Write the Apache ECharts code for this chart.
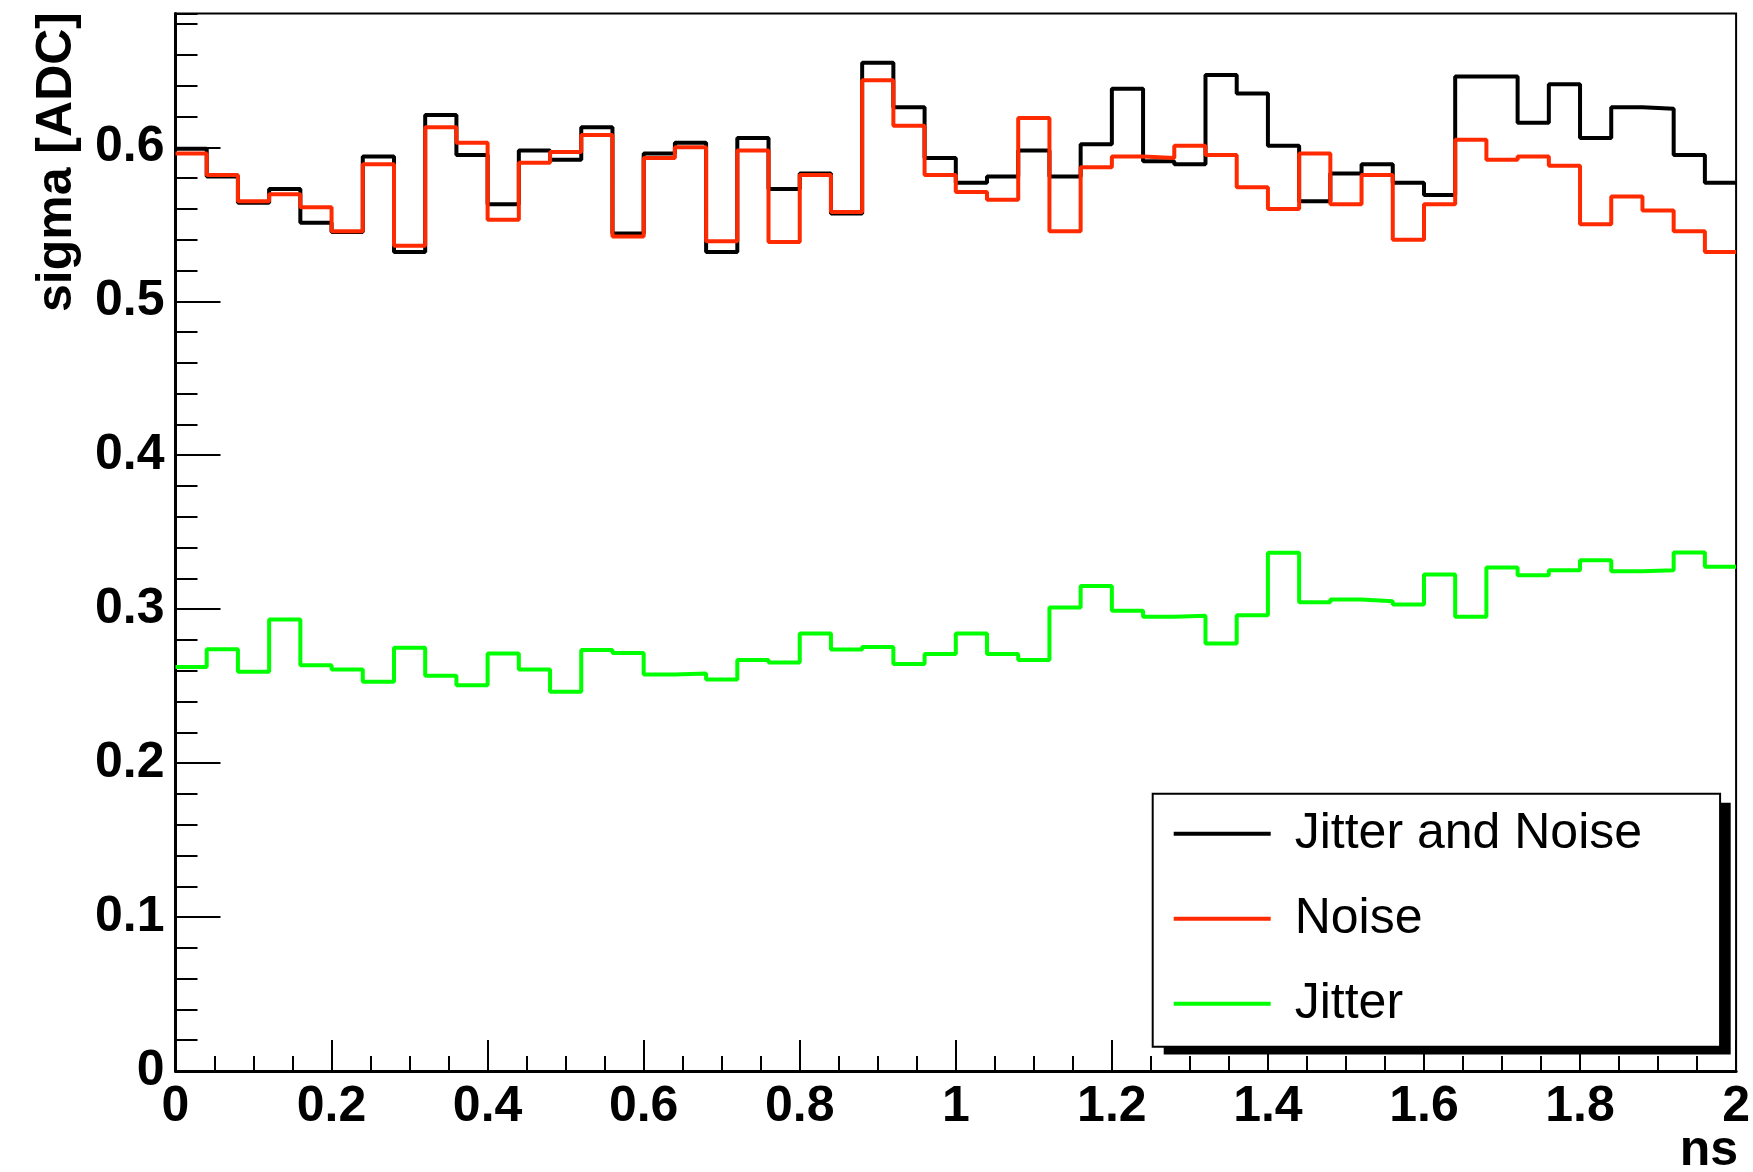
<!DOCTYPE html>
<html>
<head>
<meta charset="utf-8">
<script src="https://cdn.jsdelivr.net/npm/echarts@6/dist/echarts.min.js"></script>
<style>html,body{margin:0;padding:0;background:#fff}#c{width:1753px;height:1172px}</style>
</head>
<body>
<div id="c"></div>
<script>
// 50 bins from 0 to 2 ns (bin width 0.04)
const binCount = 50;
const xMin = 0, xMax = 2;
const seriesNames = ['Jitter and Noise', 'Noise', 'Jitter'];
const jitterAndNoise = [0.599, 0.581, 0.564, 0.573, 0.551, 0.545, 0.594, 0.532, 0.621, 0.595,
  0.563, 0.598, 0.592, 0.613, 0.544, 0.596, 0.603, 0.532, 0.606, 0.573,
  0.583, 0.557, 0.655, 0.626, 0.593, 0.577, 0.581, 0.598, 0.581, 0.602,
  0.638, 0.591, 0.589, 0.647, 0.635, 0.601, 0.565, 0.583, 0.589, 0.577,
  0.569, 0.646, 0.646, 0.616, 0.641, 0.606, 0.626, 0.625, 0.595, 0.577];
const noise = [0.596, 0.582, 0.565, 0.5695, 0.561, 0.5455, 0.589, 0.536, 0.613, 0.603,
  0.553, 0.590, 0.597, 0.608, 0.542, 0.593, 0.600, 0.539, 0.598, 0.5385,
  0.582, 0.558, 0.6435, 0.614, 0.582, 0.571, 0.566, 0.619, 0.5455, 0.587,
  0.594, 0.593, 0.601, 0.595, 0.574, 0.560, 0.596, 0.563, 0.582, 0.540,
  0.563, 0.605, 0.592, 0.594, 0.588, 0.550, 0.568, 0.559, 0.5455, 0.532];
const jitter = [0.2625, 0.274, 0.2593, 0.2933, 0.2636, 0.2608, 0.2528, 0.2749, 0.2567, 0.2506,
  0.2712, 0.2608, 0.2463, 0.2734, 0.2716, 0.2576, 0.2582, 0.2543, 0.2669, 0.2654,
  0.2842, 0.2738, 0.2755, 0.2643, 0.2708, 0.2842, 0.2708, 0.2669, 0.3011, 0.3151,
  0.2989, 0.295, 0.2957, 0.2777, 0.2961, 0.3366, 0.3045, 0.3063, 0.3052, 0.303,
  0.3225, 0.295, 0.3271, 0.3221, 0.3253, 0.3318, 0.3247, 0.3253, 0.3368, 0.3275];
const yMax = 0.687;
const xTitle = 'ns';
const yTitle = 'sigma [ADC]';

const FONT = '"Liberation Sans", Arial, Helvetica, sans-serif';
const colors = ['#000000', '#ff2a00', '#00ff00'];

function histPoints(vals) {
  const w = (xMax - xMin) / binCount;
  const pts = vals.map((v, i) => [+(xMin + i * w).toFixed(4), v]);
  pts.push([xMax, vals[vals.length - 1]]);
  return pts;
}

const chart = echarts.init(document.getElementById('c'), null, {renderer: 'canvas'});
const dataSets = [jitterAndNoise, noise, jitter];

// legend box placement (layout only)
const legBox = {x: 1152.7, y: 793.8, w: 567, h: 251.6, shadowDx: 11, shadowDy: 9};

chart.setOption({
  animation: false,
  backgroundColor: '#fff',
  grid: {left: 175.5, right: 14.5, top: 13.4, bottom: 101, show: true,
         borderColor: '#000', borderWidth: 2, backgroundColor: 'transparent'},
  xAxis: {
    type: 'value', min: xMin, max: xMax, interval: 0.2,
    axisLine: {show: true, onZero: false, lineStyle: {color: '#000', width: 3}},
    axisTick: {show: true, inside: true, length: 31, lineStyle: {color: '#000', width: 2}},
    minorTick: {show: true, splitNumber: 4, length: 15, lineStyle: {color: '#000', width: 2}},
    axisLabel: {fontSize: 50, fontWeight: 'bold', color: '#000', margin: 11, fontFamily: FONT},
    splitLine: {show: false}
  },
  yAxis: [{
    type: 'value', min: 0, max: yMax, interval: 0.1,
    axisLine: {show: true, onZero: false, lineStyle: {color: '#000', width: 3}},
    axisTick: {show: true, inside: true, length: 45, lineStyle: {color: '#000', width: 2}},
    axisLabel: {showMaxLabel: false, fontSize: 50, fontWeight: 'bold', color: '#000', margin: 11, fontFamily: FONT},
    splitLine: {show: false}
  }, {
    type: 'value', min: 0, max: yMax, interval: 0.02, position: 'left',
    axisLine: {show: false},
    axisTick: {show: true, inside: true, length: 22, lineStyle: {color: '#000', width: 2}},
    axisLabel: {show: false},
    splitLine: {show: false}
  }],
  legend: {
    show: true, orient: 'vertical', left: legBox.x, top: legBox.y,
    padding: [15, 78, 18, 21], itemGap: 35,
    itemWidth: 97, itemHeight: 4, icon: 'rect',
    selectedMode: false, z: 10,
    backgroundColor: '#fff', borderColor: '#000', borderWidth: 2,
    textStyle: {fontSize: 50, color: '#000', fontFamily: FONT, padding: [0, 0, 0, 19]},
    data: seriesNames
  },
  graphic: [
    {type: 'rect', z: 5, silent: true,
     shape: {x: legBox.x + legBox.shadowDx, y: legBox.y + legBox.shadowDy, width: legBox.w, height: legBox.h},
     style: {fill: '#000'}},
    {type: 'text', x: 57, y: 12, rotation: Math.PI / 2,
     style: {text: yTitle, font: 'bold 50px ' + FONT, fill: '#000', align: 'right', verticalAlign: 'middle'}},
    {type: 'text', x: 1738, y: 1151,
     style: {text: xTitle, font: 'bold 50px ' + FONT, fill: '#000', align: 'right', verticalAlign: 'middle'}}
  ],
  series: dataSets.map((vals, k) => ({
    name: seriesNames[k], type: 'line', step: 'end', yAxisIndex: 0,
    data: histPoints(vals), symbol: 'none', showSymbol: false,
    lineStyle: {color: colors[k], width: 4}, itemStyle: {color: colors[k]},
    emphasis: {disabled: true}, z: 2 + k
  }))
});
</script>
</body>
</html>
